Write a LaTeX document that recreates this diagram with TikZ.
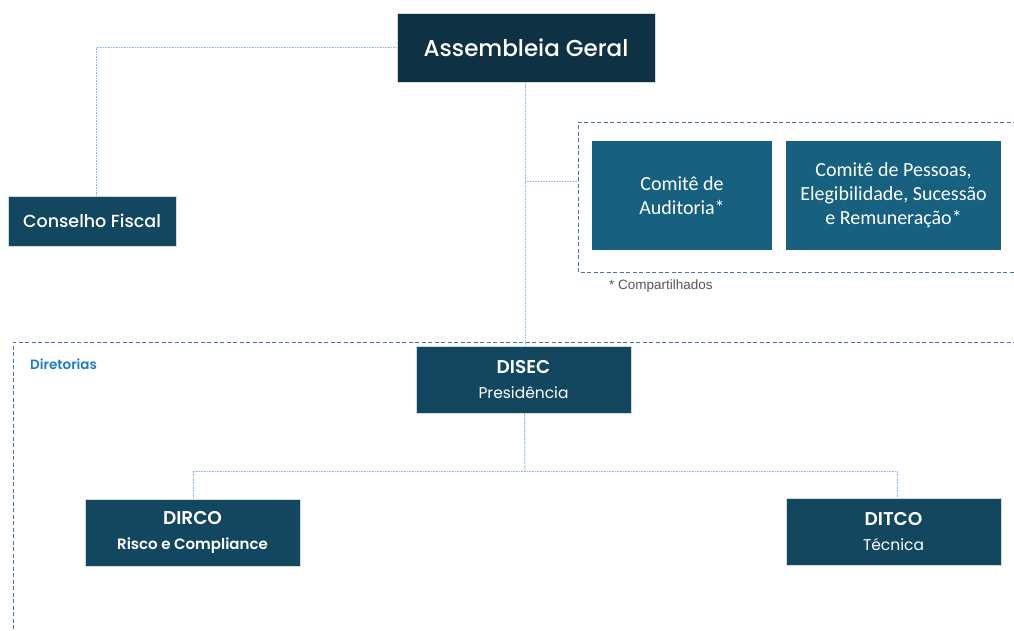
\documentclass[tikz,border=0pt]{standalone}
\usepackage{fontspec}
\setmainfont{Poppins}[UprightFont={* Medium}, BoldFont={* SemiBold}]
\newfontfamily\popreg{Poppins}
\newfontfamily\calib{Carlito}
\newfontfamily\arialf{Liberation Sans}
\definecolor{agcol}{HTML}{0F3144}
\definecolor{boxcol}{HTML}{13475F}
\definecolor{comcol}{HTML}{17607F}
\definecolor{dashcol}{HTML}{4A6FA5}
\definecolor{linkcol}{HTML}{8FB4E3}
\definecolor{labcol}{HTML}{1F7AC4}
\definecolor{notecol}{HTML}{555555}
\tikzset{
  orgbox/.style={fill=boxcol, draw=white!80!boxcol, line width=0.6pt, text=white, align=center, inner sep=0pt},
  dirbox/.style={orgbox, minimum width=215, minimum height=67, font=\fontsize{16}{25}\selectfont},
  combox/.style={fill=comcol, text=white, align=center, inner sep=0pt, font=\calib\fontsize{20}{24}\selectfont},
  link/.style={draw=linkcol, line width=1pt, dash pattern=on 1pt off 0.6pt},
  grp/.style={draw=dashcol, line width=0.9pt, dash pattern=on 4pt off 2.5pt}
}
\begin{document}
\begin{tikzpicture}[x=1pt,y=-1pt]
\useasboundingbox (0,0) rectangle (1014,630);
\clip (0,0) rectangle (1014,630);
% group frames
\draw[grp] (1030,122) -- (578,122) -- (578,272) -- (1030,272);
\draw[grp] (1030,342) -- (13,342) -- (13,650);
% nodes
\node[orgbox, fill=agcol, minimum width=258, minimum height=69, font=\fontsize{23}{28}\selectfont] (AG) at (526,47.5) {Assembleia Geral};
\node[orgbox, minimum width=168, minimum height=50, font=\fontsize{17.5}{22}\selectfont] (CF) at (92,221) {Conselho Fiscal};
\node[combox, minimum width=180, minimum height=109] (CA) at (682,195.5) {Comitê de\\Auditoria*};
\node[combox, minimum width=215, minimum height=109] (CP) at (893.5,195.5) {Comitê de Pessoas,\\Elegibilidade, Sucessão\\e Remuneração*};
\node[anchor=west, text=notecol, font=\arialf\fontsize{13.5}{16}\selectfont, inner sep=0pt] (note) at (609,286) {* Compartilhados};
\node[anchor=west, text=labcol, font=\fontsize{13.5}{16}\selectfont\bfseries, inner sep=0pt] (dlab) at (30,364) {Diretorias};
\node[dirbox] (DISEC) at (523.5,379.5) {{\fontsize{18.5}{25}\selectfont\bfseries DISEC}\\{\popreg\fontsize{15.5}{25}\selectfont Presidência}};
\node[dirbox] (DIRCO) at (192.5,532.5) {{\fontsize{18.5}{25}\selectfont\bfseries DIRCO}\\{\fontsize{15}{25}\selectfont\bfseries Risco e Compliance}};
\node[dirbox] (DITCO) at (893.5,531.5) {{\fontsize{18.5}{25}\selectfont\bfseries DITCO}\\{\popreg\fontsize{15.5}{25}\selectfont Técnica}};
% connectors
\coordinate (comm) at (578,181);
\coordinate (split) at (525,471);
\draw[link] (AG.west) -| ([xshift=4pt]CF.north);
\draw[link] ([xshift=-1pt]AG.south) -- ([xshift=-1pt]AG.south |- DISEC.north);
\draw[link] ([xshift=-1pt]AG.south |- comm) -- (comm);
\draw[link] ([xshift=1pt]DISEC.south) -- (split);
\draw[link] ([xshift=0.5pt]DIRCO.north) |- (split) -| ([xshift=3.5pt]DITCO.north);
\end{tikzpicture}
\end{document}
